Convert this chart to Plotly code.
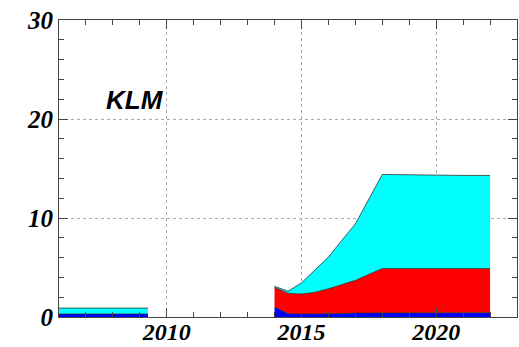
import plotly.graph_objects as go

# Early period (stacked layers)
early_years = [2006.0, 2009.3]
early_blue = [0.3, 0.3]
early_cyan = [0.6, 0.6]

# Later period (stacked layers)
late_years = [2014.0, 2014.5, 2015.0, 2015.5, 2016.0, 2016.5, 2017.0,
              2018.0, 2019.0, 2020.0, 2021.0, 2022.0]
late_blue = [1.0, 0.35, 0.3, 0.3, 0.3, 0.35, 0.4, 0.42, 0.42, 0.42, 0.42, 0.42]
late_red = [2.0, 2.05, 2.02, 2.2, 2.55, 2.9, 3.3, 4.48, 4.48, 4.48, 4.48, 4.48]
late_cyan = [0.1, 0.2, 1.13, 2.25, 3.2, 4.5, 5.7, 9.5, 9.45, 9.4, 9.4, 9.4]

x_ticks = [2010, 2015, 2020]
y_ticks = [0, 10, 20, 30]

edge = dict(color="rgba(40,40,40,0.75)", width=1)

fig = go.Figure()

fig.add_trace(go.Scatter(x=early_years, y=early_blue, stackgroup="early",
                         fillcolor="#0000ff", line=edge, mode="lines"))
fig.add_trace(go.Scatter(x=early_years, y=early_cyan, stackgroup="early",
                         fillcolor="#00ffff", line=edge, mode="lines"))

fig.add_trace(go.Scatter(x=late_years, y=late_blue, stackgroup="late",
                         fillcolor="#0000ff", line=edge, mode="lines"))
fig.add_trace(go.Scatter(x=late_years, y=late_red, stackgroup="late",
                         fillcolor="#ff0000", line=edge, mode="lines"))
fig.add_trace(go.Scatter(x=late_years, y=late_cyan, stackgroup="late",
                         fillcolor="#00ffff", line=edge, mode="lines"))

fig.add_annotation(x=2008.83, y=21.9, text="<b><i>KLM</i></b>", showarrow=False,
                   font=dict(family="Liberation Sans, Arial, sans-serif",
                             size=26, color="black"),
                   xanchor="center", yanchor="middle")

tick_font = dict(family="Liberation Serif, Times New Roman, serif",
                 size=25, color="black")

fig.update_xaxes(
    range=[2006, 2023], tickvals=x_ticks,
    ticktext=[f"<b><i>{v}</i></b>" for v in x_ticks],
    tickfont=dict(tick_font, size=24), ticks="inside", ticklen=9,
    tickcolor="#444", ticklabelstandoff=-7,
    minor=dict(dtick=1, tick0=2006, ticks="inside", ticklen=5,
               tickcolor="#444", showgrid=False),
    showgrid=True, gridcolor="#aaa", griddash="dot", gridwidth=1,
    showline=True, linecolor="#444", linewidth=1, mirror="ticks",
    zeroline=False, fixedrange=True, automargin=False,
)
fig.update_yaxes(
    range=[0, 30], tickvals=y_ticks,
    ticktext=[f"<b><i>{v}</i></b>" for v in y_ticks],
    tickfont=tick_font, ticks="inside", ticklen=9, tickcolor="#444",
    minor=dict(dtick=2, tick0=0, ticks="inside", ticklen=5,
               tickcolor="#444", showgrid=False),
    showgrid=True, gridcolor="#aaa", griddash="dot", gridwidth=1,
    showline=True, linecolor="#444", linewidth=1, mirror="ticks",
    zeroline=False, fixedrange=True, automargin=False,
)

fig.update_layout(
    width=519, height=347,
    margin=dict(l=59, r=2, t=20, b=30, pad=0),
    paper_bgcolor="white", plot_bgcolor="white",
    showlegend=False,
)

fig.write_html("out.html")
